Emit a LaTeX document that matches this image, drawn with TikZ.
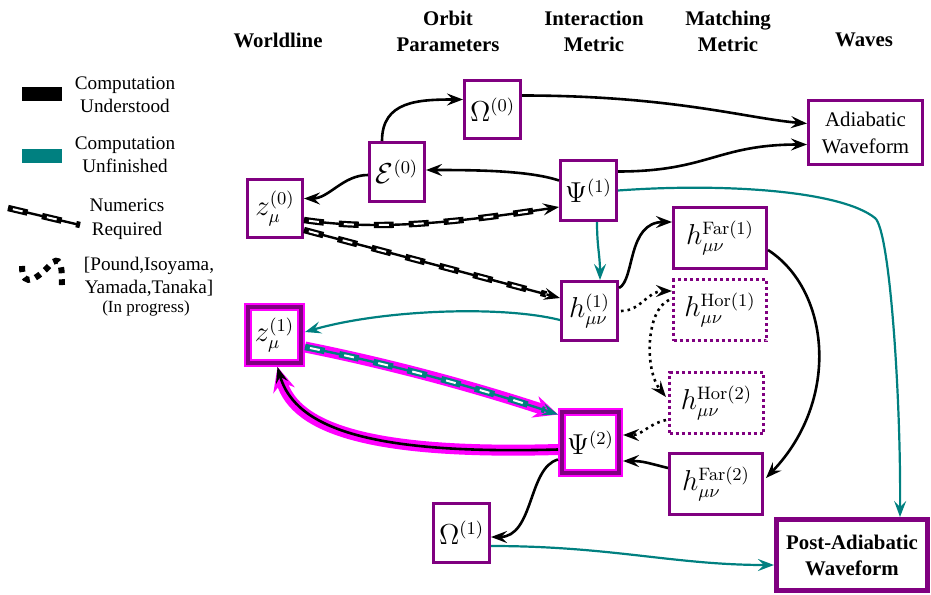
\documentclass[tikz,border=0pt]{standalone}
\usepackage[no-math]{fontspec}
\newfontfamily\tms{Liberation Serif}
\usetikzlibrary{arrows.meta,calc}
\definecolor{pur}{RGB}{128,0,128}
\definecolor{tl}{RGB}{0,128,128}
\definecolor{mag}{RGB}{255,0,255}
\tikzset{
  box/.style={draw=pur, line width=1.5pt, fill=white, inner sep=0pt, minimum width=28pt, minimum height=30pt, font=\fontsize{13.5}{16}\selectfont},
  dbox/.style={box, dash pattern=on 1.5pt off 1.5pt},
  hlbox/.style={draw=mag, line width=1pt, double=pur, double distance=2pt, fill=white, inner sep=0pt, outer sep=2pt, font=\fontsize{13.5}{16}\selectfont},
  hdr/.style={font=\tms\bfseries\fontsize{10.4}{13}\selectfont, align=center, inner sep=0pt},
  lg/.style={font=\tms\fontsize{9.6}{11.7}\selectfont, align=center, inner sep=0pt},
  swatch/.style={minimum width=20pt, minimum height=7pt, inner sep=0pt},
  arr/.style={->, line width=1.3pt, draw=black},
  tarr/.style={->, line width=1.1pt, draw=tl},
  darr/.style={->, line width=1.3pt, dash pattern=on 1.3pt off 2pt},
  num/.style={->, line width=1.2pt,
    postaction={draw=#1, -, shorten >=7pt, line width=3.2pt, dash pattern=on 10pt off 7.5pt},
    postaction={draw=white, -, shorten >=7pt, line width=1pt, dash pattern=on 5pt off 12.5pt, dash phase=15pt}},
  num/.default=black,
  glow/.style={preaction={draw=mag, line width=5.5pt, -{Stealth[length=12pt,width=11pt,inset=4pt]}}}
}
\begin{document}
\begin{tikzpicture}[x=0.5pt,y=-0.5pt, >={Stealth[length=8pt,width=6pt,inset=3pt]}]
\useasboundingbox (0,0) rectangle (931,594);
% headers
\node[hdr] (hW) at (278,40) {Worldline};
\node[hdr] (hO) at (448,31) {Orbit\\Parameters};
\node[hdr] (hI) at (594,31) {Interaction\\Metric};
\node[hdr] (hM) at (728,31) {Matching\\Metric};
\node[hdr] (hV) at (864,40) {Waves};
% legend
\node[swatch, fill=black] (lk) at (42,94) {};
\node[lg] (lkt) at (125,94.5) {Computation\\Understood};
\node[swatch, fill=tl] (lt) at (42,155.5) {};
\node[lg] (ltt) at (125,154.5) {Computation\\Unfinished};
\coordinate (ln1) at (8,208);
\coordinate (ln2) at (80,225);
\draw[line width=1.2pt] (ln1) -- (ln2);
\draw[line width=3.2pt, dash pattern=on 10pt off 7.5pt] (ln1) -- (ln2);
\draw[white, line width=1pt, dash pattern=on 5pt off 12.5pt, dash phase=15pt] (ln1) -- (ln2);
\node[lg] (lnt) at (127,219) {Numerics\\Required};
\coordinate (ld1) at (22,266);
\coordinate (ld2) at (53,262);
\coordinate (ld3) at (62,285);
\draw[line width=3pt, dash pattern=on 3pt off 3pt] (ld1) .. controls (22,292) and (40,276) .. (ld2) .. controls (62,256) and (62,272) .. (ld3);
\node[lg] (lpt) at (149,277) {[Pound,Isoyama,\\Yamada,Tanaka]};
\node[lg, font=\tms\fontsize{8.5}{10}\selectfont] (lip) at (146,308) {(In progress)};
% nodes
\node[box, minimum width=27.5pt, minimum height=29pt] (z0) at (275,208.5) {$z_\mu^{(0)}$};
\node[box, minimum width=27.5pt, minimum height=29.5pt] (E0) at (397,172) {$\mathcal{E}^{(0)}$};
\node[box, minimum width=28pt, minimum height=29pt] (O0) at (492.5,109.5) {$\Omega^{(0)}$};
\node[box, minimum width=28pt, minimum height=30pt] (P1) at (588.5,190.5) {$\Psi^{(1)}$};
\node[box, minimum width=57pt, minimum height=32pt, align=center, font=\tms\fontsize{10.4}{13.5}\selectfont] (AW) at (865.5,132.5) {Adiabatic\\Waveform};
\node[box, minimum width=28pt, minimum height=29.5pt] (h1) at (589.5,311) {$h_{\mu\nu}^{(1)}$};
\node[box, minimum width=46.5pt, minimum height=30.5pt] (F1) at (720,238) {$h_{\mu\nu}^{\mathrm{Far}(1)}$};
\node[dbox, minimum width=46.5pt, minimum height=30.5pt] (H1) at (720,310) {$h_{\mu\nu}^{\mathrm{Hor}(1)}$};
\node[dbox, minimum width=47pt, minimum height=30.5pt] (H2) at (716.5,403) {$h_{\mu\nu}^{\mathrm{Hor}(2)}$};
\node[hlbox, minimum width=28.5pt, minimum height=30.5pt] (P2) at (590.5,442.5) {$\Psi^{(2)}$};
\node[hlbox, minimum width=26.5pt, minimum height=28pt] (z1) at (274.5,335) {$z_\mu^{(1)}$};
\node[box, minimum width=46.5pt, minimum height=30.5pt] (F2) at (716,484) {$h_{\mu\nu}^{\mathrm{Far}(2)}$};
\node[box, minimum width=28pt, minimum height=29.5pt] (O1) at (461.5,533) {$\Omega^{(1)}$};
\node[box, line width=2.5pt, minimum width=75.5pt, minimum height=35.5pt, align=center, font=\tms\bfseries\fontsize{10.4}{13}\selectfont] (PA) at (852,555) {Post-Adiabatic\\Waveform};
% connectors
\draw[arr] ($(E0.north)+(-15,0)$) .. controls +(0,-40) and +(-45,0) .. ($(O0.west)+(0,-10)$);
\draw[arr] ($(O0.east)+(0,-14)$) .. controls +(150,0) and +(-60,-5) .. ($(AW.west)+(0,-9)$);
\draw[arr] ($(P1.east)+(0,-19)$) .. controls +(90,0) and +(-90,0) .. ($(AW.west)+(0,12)$);
\draw[arr] ($(P1.west)+(0,-10)$) .. controls +(-30,-10) and +(50,0) .. ($(E0.east)+(0,-2)$);
\draw[arr] ($(E0.west)+(0,3)$) .. controls +(-25,0) and +(25,0) .. ($(z0.east)+(0,-10)$);
\draw[num] ($(z0.east)+(0,11.5)$) .. controls +(80,12) and +(-87,13) .. ($(P1.west)+(0,16.5)$);
\draw[num] ($(z0.east)+(0,21.5)$) -- ($(h1.west)+(0,-13)$);
\draw[tarr] ($(P1.south)+(8.5,0)$) .. controls +(0,25) and +(0,-25) .. ($(h1.north)+(10.5,0)$);
\draw[tarr] (P1.east) .. controls (720,183) and (840,190) .. (875,218) .. controls (890,230) and (901,400) .. ($(PA.north)+(48,0)$);
\draw[arr] ($(h1.east)+(0,-23)$) .. controls +(16,-8) and +(-45,0) .. ($(F1.west)+(0,-16)$);
\draw[darr] ($(h1.east)+(2,0)$) .. controls +(20,0) and +(-25,0) .. ($(H1.west)+(0,-19)$);
\draw[darr] ($(H1.west)+(-3,-10)$) .. controls +(-23,10) and +(-22,-27) .. ($(H2.west)+(-2,-6)$);
\draw[darr] ($(H2.west)+(-2,17)$) .. controls +(-20,5) and +(20,0) .. ($(P2.east)+(0,-7.5)$);
\draw[arr] ($(F1.east)+(0,12)$) .. controls +(62,40) and +(75,-78) .. ($(F2.east)+(2,-6)$);
\draw[arr] ($(F2.west)+(0,-16)$) .. controls +(-20,-5) and +(20,0) .. ($(P2.east)+(0,18.5)$);
\draw[arr] ($(P2.west)+(0,17)$) .. controls +(-30,8) and +(43,0) .. ($(O1.east)+(0,4)$);
\draw[tarr] ($(O1.east)+(0,13)$) .. controls +(120,0) and +(-100,0) .. ($(PA.west)+(0,10)$);
\draw[tarr] ($(h1.west)+(0,9)$) .. controls +(-60,-15) and +(76,-22) .. ($(z1.east)+(0,-3)$);
\draw[glow, num=tl, draw=tl] ($(z1.east)+(0,12)$) .. controls +(85,17) and +(-85,-28) .. ($(P2.west)+(0,-28)$);
\draw[glow, arr] ($(P2.west)+(0,7)$) .. controls +(-180,5) and +(18,64) .. ($(z1.south)+(3,0)$);
\end{tikzpicture}
\end{document}
